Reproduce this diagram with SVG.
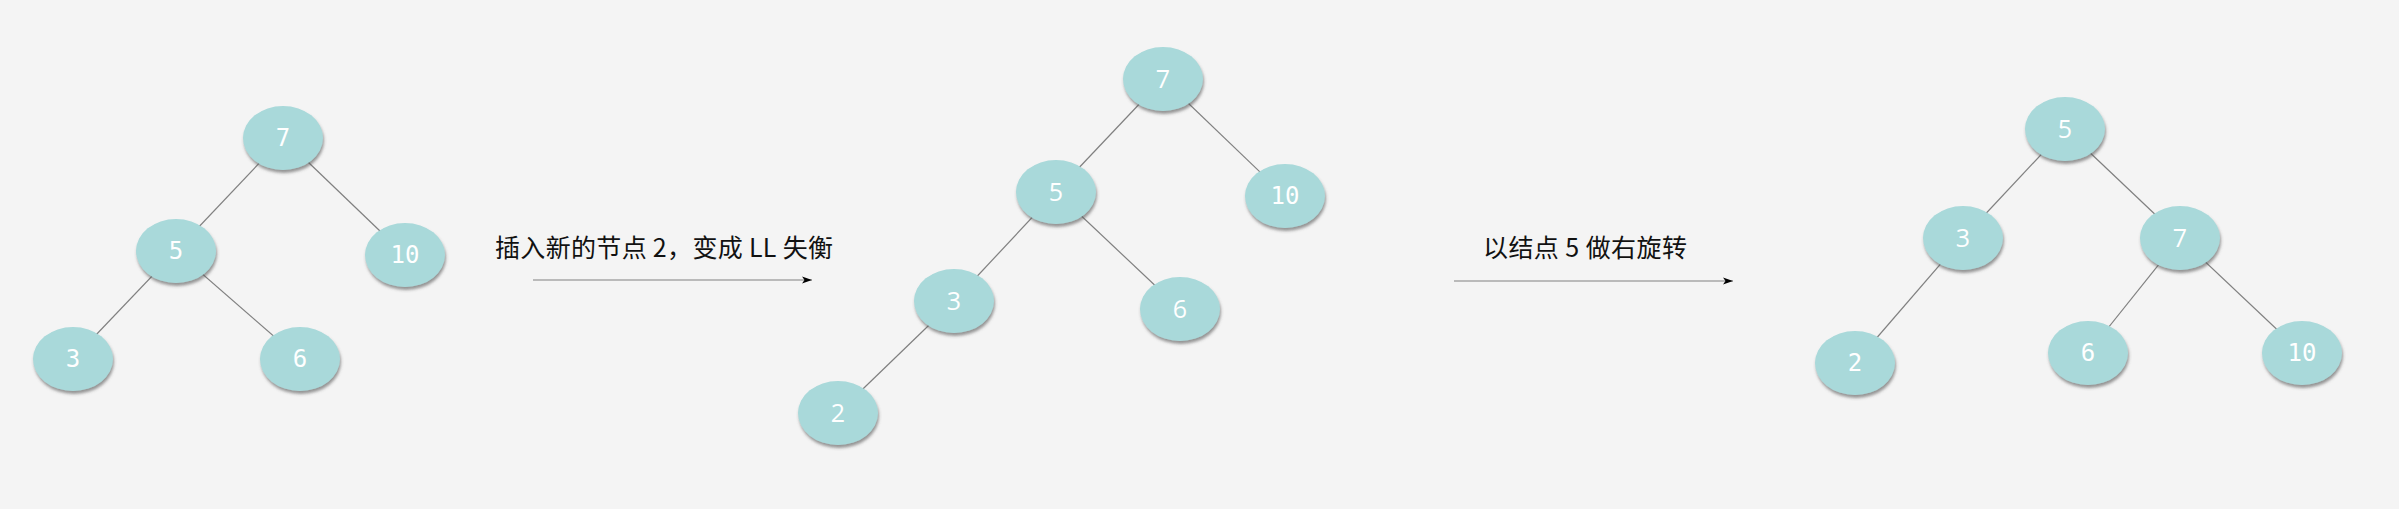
<svg xmlns="http://www.w3.org/2000/svg" width="2399" height="509" viewBox="0 0 2399 509">
<defs>
<filter id="sh" x="-20%" y="-20%" width="140%" height="150%">
<feDropShadow dx="1" dy="3" stdDeviation="1.5" flood-color="#555" flood-opacity="0.6"/>
</filter>
<marker id="arr" viewBox="0 0 10 10" refX="10" refY="5" markerWidth="10" markerHeight="10" markerUnits="userSpaceOnUse" orient="auto">
<path d="M0,1.5 L10,5 L0,8.5 L2.5,5 Z" fill="#000"/>
</marker>
</defs>
<style>
.n ellipse{fill:#a9d9da;filter:url(#sh);}
.n text{font-family:"DejaVu Sans Mono",monospace;font-size:24px;fill:#fff;text-anchor:middle;}
.n text.s{font-family:"Open Sans","Liberation Sans",sans-serif;font-size:25px;}
.e line{stroke:#808080;stroke-width:1.2;}
.lbl{font-family:"Noto Sans CJK SC","Noto Sans",sans-serif;font-size:25px;fill:#111;}
.ar{stroke:#000;stroke-width:1.3;marker-end:url(#arr);}
</style>
<rect width="2399" height="509" fill="#f4f4f4"/>
<g id="connectors" class="e">
<line x1="283" y1="138" x2="176" y2="251"/>
<line x1="283" y1="138" x2="405" y2="255"/>
<line x1="176" y1="251" x2="73" y2="359"/>
<line x1="176" y1="251" x2="300" y2="359"/>
<line x1="1163" y1="79" x2="1056" y2="192"/>
<line x1="1163" y1="79" x2="1285" y2="196"/>
<line x1="1056" y1="192" x2="954" y2="301"/>
<line x1="1056" y1="192" x2="1180" y2="309"/>
<line x1="954" y1="301" x2="838" y2="413"/>
<line x1="2065" y1="129" x2="1963" y2="238"/>
<line x1="2065" y1="129" x2="2180" y2="238"/>
<line x1="1963" y1="238" x2="1855" y2="363"/>
<line x1="2180" y1="238" x2="2088" y2="353"/>
<line x1="2180" y1="238" x2="2302" y2="353"/>
<line class="ar" x1="533" y1="280" x2="812" y2="280"/>
<line class="ar" x1="1454" y1="281" x2="1733" y2="281"/>
</g>
<g id="t1-7" class="n"><ellipse cx="283" cy="138" rx="40" ry="32"/><text x="283" y="146">7</text></g>
<g id="t1-5" class="n"><ellipse cx="176" cy="251" rx="40" ry="32"/><text x="176" y="259">5</text></g>
<g id="t1-10" class="n"><ellipse cx="405" cy="255" rx="40" ry="32"/><text x="405" y="263">10</text></g>
<g id="t1-3" class="n"><ellipse cx="73" cy="359" rx="40" ry="32"/><text x="73" y="367">3</text></g>
<g id="t1-6" class="n"><ellipse cx="300" cy="359" rx="40" ry="32"/><text x="300" y="367">6</text></g>
<g id="t2-7" class="n"><ellipse cx="1163" cy="79" rx="40" ry="32"/><text class="s" x="1163" y="88">7</text></g>
<g id="t2-5" class="n"><ellipse cx="1056" cy="192" rx="40" ry="32"/><text class="s" x="1056" y="201">5</text></g>
<g id="t2-10" class="n"><ellipse cx="1285" cy="196" rx="40" ry="32"/><text x="1285" y="204">10</text></g>
<g id="t2-3" class="n"><ellipse cx="954" cy="301" rx="40" ry="32"/><text class="s" x="954" y="310">3</text></g>
<g id="t2-6" class="n"><ellipse cx="1180" cy="309" rx="40" ry="32"/><text class="s" x="1180" y="318">6</text></g>
<g id="t2-2" class="n"><ellipse cx="838" cy="413" rx="40" ry="32"/><text class="s" x="838" y="422">2</text></g>
<g id="t3-5" class="n"><ellipse cx="2065" cy="129" rx="40" ry="32"/><text class="s" x="2065" y="138">5</text></g>
<g id="t3-3" class="n"><ellipse cx="1963" cy="238" rx="40" ry="32"/><text class="s" x="1963" y="247">3</text></g>
<g id="t3-7" class="n"><ellipse cx="2180" cy="238" rx="40" ry="32"/><text class="s" x="2180" y="247">7</text></g>
<g id="t3-2" class="n"><ellipse cx="1855" cy="363" rx="40" ry="32"/><text x="1855" y="371">2</text></g>
<g id="t3-6" class="n"><ellipse cx="2088" cy="353" rx="40" ry="32"/><text x="2088" y="361">6</text></g>
<g id="t3-10" class="n"><ellipse cx="2302" cy="353" rx="40" ry="32"/><text x="2302" y="361">10</text></g>
<g id="label1"><text class="lbl" x="495" y="257" textLength="338" lengthAdjust="spacing">插入新的节点 2，变成 LL 失衡</text></g>
<g id="label2"><text class="lbl" x="1483" y="257" textLength="204" lengthAdjust="spacing">以结点 5 做右旋转</text></g>
</svg>
